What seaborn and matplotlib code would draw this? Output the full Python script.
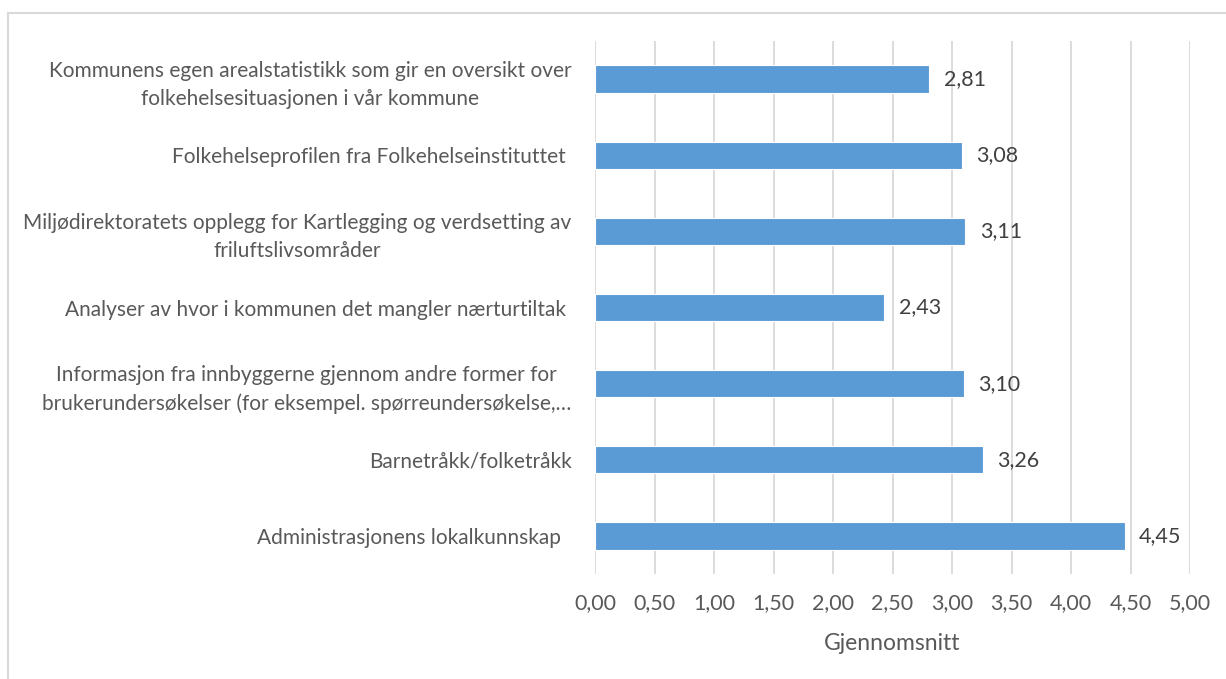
import matplotlib
matplotlib.use("Agg")
import matplotlib.pyplot as plt
import seaborn as sns
import pandas as pd
from matplotlib.ticker import FuncFormatter, MultipleLocator
from matplotlib.patches import Rectangle

# Data
categories = [
    "Kommunens egen arealstatistikk som gir en oversikt over\nfolkehelsesituasjonen i vår kommune",
    "Folkehelseprofilen fra Folkehelseinstituttet ",
    "Miljødirektoratets opplegg for Kartlegging og verdsetting av\nfriluftslivsområder",
    "Analyser av hvor i kommunen det mangler nærturtiltak ",
    "Informasjon fra innbyggerne gjennom andre former for\nbrukerundersøkelser (for eksempel. spørreundersøkelse,…",
    "Barnetråkk/folketråkk",
    "Administrasjonens lokalkunnskap  ",
]
values = [2.81, 3.08, 3.11, 2.43, 3.10, 3.26, 4.45]
x_label = "Gjennomsnitt"

df = pd.DataFrame({"kategori": categories, "snitt": values})

sns.set_theme(style="white")
plt.rcParams["font.family"] = ["Lato", "DejaVu Sans"]

text_col = "#595959"
bar_col = "#5B9BD5"

fig = plt.figure(figsize=(12.26, 6.79), dpi=100)
ax = fig.add_axes([595 / 1226, 1 - 574 / 679, (1190 - 595) / 1226, (574 - 41) / 679])

sns.barplot(data=df, y="kategori", x="snitt", orient="h", color=bar_col,
            saturation=1, width=0.36, edgecolor="white", linewidth=0.8,
            ax=ax, zorder=3)

ax.set_xlim(0, 5)
ax.xaxis.set_major_locator(MultipleLocator(0.5))
ax.xaxis.set_major_formatter(FuncFormatter(lambda v, p: f"{v:.2f}".replace(".", ",")))
ax.grid(axis="x", color="#d9d9d9", linewidth=1.3, zorder=0)
ax.grid(axis="y", visible=False)
for s in ax.spines.values():
    s.set_visible(False)

ax.tick_params(axis="x", length=0, pad=14, labelsize=15.5, labelcolor=text_col)
ax.tick_params(axis="y", length=0, pad=17, labelsize=15, labelcolor=text_col)
for lbl in ax.get_yticklabels():
    lbl.set_multialignment("center")
    lbl.set_linespacing(1.5)

ax.set_ylabel("")
ax.set_xlabel(x_label, fontsize=16.5, color=text_col, labelpad=14)

ax.bar_label(ax.containers[0],
             labels=[f"{v:.2f}".replace(".", ",") for v in values],
             padding=10.5, fontsize=15.5, color="#404040")

# outer chart border
fig.patches.append(Rectangle((8 / 1226, -0.1), 1.2, 1 - 13 / 679 + 0.1,
                             transform=fig.transFigure, fill=False,
                             edgecolor="#d9d9d9", linewidth=1.5))

fig.savefig("out.png", dpi=100, facecolor="white")
